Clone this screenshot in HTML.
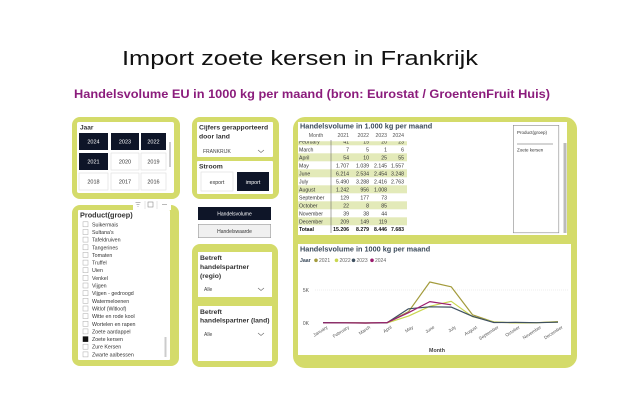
<!DOCTYPE html>
<html><head><meta charset="utf-8">
<style>
html,body{margin:0;padding:0;background:#fff;}
svg{display:block;}
text{font-family:"Liberation Sans",Arial,sans-serif;}
</style></head>
<body>
<svg width="626" height="417" viewBox="0 0 626 417" xmlns="http://www.w3.org/2000/svg">
<rect x="0" y="0" width="626" height="417" fill="#fff"/>

<!-- Titles -->
<text x="122" y="65" font-size="20" fill="#111" textLength="356" lengthAdjust="spacingAndGlyphs">Import zoete kersen in Frankrijk</text>
<text x="74" y="98" font-size="12" font-weight="bold" fill="#8b1c7c" textLength="476" lengthAdjust="spacingAndGlyphs">Handelsvolume EU in 1000 kg per maand (bron: Eurostat / GroentenFruit Huis)</text>

<!-- ===== Jaar panel ===== -->
<rect x="72" y="117" width="108" height="82" rx="8" fill="#d4db6a"/>
<rect x="77" y="122" width="97" height="71" rx="2" fill="#fff"/>
<text x="80" y="129.5" font-size="6.5" font-weight="bold" fill="#333">Jaar</text>
<rect x="169" y="142" width="2" height="25" fill="#ccc"/>
<g font-size="5.5" text-anchor="middle">
<rect x="79" y="133" width="29" height="17" fill="#0e1528"/><text x="93.5" y="143.5" fill="#fff">2024</text>
<rect x="111" y="133" width="28" height="17" fill="#0e1528"/><text x="125" y="143.5" fill="#fff">2023</text>
<rect x="141" y="133" width="25" height="17" fill="#0e1528"/><text x="153.5" y="143.5" fill="#fff">2022</text>
<rect x="79" y="153" width="29" height="17" fill="#0e1528"/><text x="93.5" y="163.5" fill="#fff">2021</text>
<rect x="111" y="153" width="28" height="17" fill="#fff" stroke="#ddd" stroke-width="0.6"/><text x="125" y="163.5" fill="#333">2020</text>
<rect x="141" y="153" width="25" height="17" fill="#fff" stroke="#ddd" stroke-width="0.6"/><text x="153.5" y="163.5" fill="#333">2019</text>
<rect x="79" y="173" width="29" height="17" fill="#fff" stroke="#ddd" stroke-width="0.6"/><text x="93.5" y="183.5" fill="#333">2018</text>
<rect x="111" y="173" width="28" height="17" fill="#fff" stroke="#ddd" stroke-width="0.6"/><text x="125" y="183.5" fill="#333">2017</text>
<rect x="141" y="173" width="25" height="17" fill="#fff" stroke="#ddd" stroke-width="0.6"/><text x="153.5" y="183.5" fill="#333">2016</text>
</g>

<!-- ===== Cijfers / Stroom panel ===== -->
<rect x="192" y="117" width="87" height="82" rx="8" fill="#d4db6a"/>
<rect x="197" y="122" width="76" height="35" rx="1" fill="#fff"/>
<rect x="197" y="161" width="76" height="33" rx="1" fill="#fff"/>
<text x="199" y="129.5" font-size="6.8" font-weight="bold" fill="#333">Cijfers gerapporteerd</text>
<text x="199" y="138.5" font-size="6.8" font-weight="bold" fill="#333">door land</text>
<text x="203" y="153" font-size="5" fill="#444">FRANKRIJK</text>
<polyline points="258,150 261,152.5 264,150" fill="none" stroke="#666" stroke-width="0.6"/>
<text x="199" y="168.5" font-size="6.8" font-weight="bold" fill="#333">Stroom</text>
<rect x="201" y="172" width="32" height="19" fill="#fff" stroke="#ddd" stroke-width="0.6"/>
<text x="217" y="184" font-size="5.3" text-anchor="middle" fill="#333">export</text>
<rect x="237" y="172" width="32" height="19" fill="#0e1528"/>
<text x="253" y="184" font-size="5.3" text-anchor="middle" fill="#fff">import</text>

<!-- ===== Product panel ===== -->
<rect x="72" y="205" width="107" height="161" rx="8" fill="#d4db6a"/>
<rect x="78" y="210" width="92" height="150" rx="1" fill="#fff"/>
<rect x="133" y="200" width="38" height="10" fill="#fff"/>
<g stroke="#777" stroke-width="0.5" fill="none">
<line x1="135.5" y1="202.5" x2="140.5" y2="202.5"/><line x1="136.5" y1="204.5" x2="139.5" y2="204.5"/><line x1="137.5" y1="206.5" x2="138.5" y2="206.5"/>
<rect x="148" y="202" width="5" height="5"/>
<line x1="145" y1="201" x2="145" y2="209" stroke="#ccc"/><line x1="157" y1="201" x2="157" y2="209" stroke="#ccc"/>
<line x1="162" y1="204.5" x2="167" y2="204.5"/>
</g>
<text x="80" y="217.5" font-size="7.3" font-weight="bold" fill="#333">Product(groep)</text>
<rect x="164.5" y="337" width="2" height="20" fill="#ccc"/>
<g font-size="5.3" fill="#333">
<rect x="83" y="221.8" width="5" height="5" fill="#fff" stroke="#aaa" stroke-width="0.5"/><text x="92" y="226.3">Suikermais</text>
<rect x="83" y="229.5" width="5" height="5" fill="#fff" stroke="#aaa" stroke-width="0.5"/><text x="92" y="234">Sultana's</text>
<rect x="83" y="237.1" width="5" height="5" fill="#fff" stroke="#aaa" stroke-width="0.5"/><text x="92" y="241.6">Tafeldruiven</text>
<rect x="83" y="244.8" width="5" height="5" fill="#fff" stroke="#aaa" stroke-width="0.5"/><text x="92" y="249.3">Tangerines</text>
<rect x="83" y="252.4" width="5" height="5" fill="#fff" stroke="#aaa" stroke-width="0.5"/><text x="92" y="256.9">Tomaten</text>
<rect x="83" y="260.1" width="5" height="5" fill="#fff" stroke="#aaa" stroke-width="0.5"/><text x="92" y="264.6">Truffel</text>
<rect x="83" y="267.7" width="5" height="5" fill="#fff" stroke="#aaa" stroke-width="0.5"/><text x="92" y="272.2">Uien</text>
<rect x="83" y="275.4" width="5" height="5" fill="#fff" stroke="#aaa" stroke-width="0.5"/><text x="92" y="279.9">Venkel</text>
<rect x="83" y="283" width="5" height="5" fill="#fff" stroke="#aaa" stroke-width="0.5"/><text x="92" y="287.5">Vijgen</text>
<rect x="83" y="290.7" width="5" height="5" fill="#fff" stroke="#aaa" stroke-width="0.5"/><text x="92" y="295.2">Vijgen - gedroogd</text>
<rect x="83" y="298.3" width="5" height="5" fill="#fff" stroke="#aaa" stroke-width="0.5"/><text x="92" y="302.8">Watermeloenen</text>
<rect x="83" y="306" width="5" height="5" fill="#fff" stroke="#aaa" stroke-width="0.5"/><text x="92" y="310.5">Witlof (Witloof)</text>
<rect x="83" y="313.6" width="5" height="5" fill="#fff" stroke="#aaa" stroke-width="0.5"/><text x="92" y="318.1">Witte en rode kool</text>
<rect x="83" y="321.3" width="5" height="5" fill="#fff" stroke="#aaa" stroke-width="0.5"/><text x="92" y="325.8">Wortelen en rapen</text>
<rect x="83" y="328.9" width="5" height="5" fill="#fff" stroke="#aaa" stroke-width="0.5"/><text x="92" y="333.4">Zoete aardappel</text>
<rect x="83" y="336.6" width="5" height="5" fill="#111" stroke="#111" stroke-width="0.5"/><text x="92" y="341.1">Zoete kersen</text>
<rect x="83" y="344.2" width="5" height="5" fill="#fff" stroke="#aaa" stroke-width="0.5"/><text x="92" y="348.7">Zure Kersen</text>
<rect x="83" y="351.9" width="5" height="5" fill="#fff" stroke="#aaa" stroke-width="0.5"/><text x="92" y="356.4">Zwarte aalbessen</text>
</g>

<!-- ===== Buttons ===== -->
<rect x="198" y="207" width="73" height="13" fill="#0e1528"/>
<text x="234.5" y="215.5" font-size="5" text-anchor="middle" fill="#fff">Handelsvolume</text>
<rect x="198.3" y="224.3" width="72.4" height="13.4" fill="#f0f0f0" stroke="#999" stroke-width="0.6"/>
<text x="234.5" y="232.8" font-size="5" text-anchor="middle" fill="#333">Handelswaarde</text>

<!-- ===== Betreft panel ===== -->
<rect x="192" y="244" width="86" height="123" rx="8" fill="#d4db6a"/>
<rect x="198" y="252" width="74" height="45" fill="#fff"/>
<rect x="198" y="306" width="74" height="55" fill="#fff"/>
<g font-size="6.8" font-weight="bold" fill="#333">
<text x="200" y="260">Betreft</text>
<text x="200" y="269">handelspartner</text>
<text x="200" y="278">(regio)</text>
<text x="200" y="314">Betreft</text>
<text x="200" y="322.5">handelspartner (land)</text>
</g>
<text x="204" y="291" font-size="5" fill="#444">Alle</text>
<polyline points="258,288 261,290.5 264,288" fill="none" stroke="#666" stroke-width="0.6"/>
<text x="204" y="336" font-size="5" fill="#444">Alle</text>
<polyline points="258,333 261,335.5 264,333" fill="none" stroke="#666" stroke-width="0.6"/>

<!-- ===== Table + Chart panels ===== -->
<rect x="293" y="117" width="284" height="251" rx="12" fill="#d4db6a"/>
<rect x="298" y="122" width="269" height="113" fill="#fff"/>
<rect x="298" y="244" width="273" height="111" fill="#fff"/>

<!-- Table -->
<text x="300" y="128.5" font-size="7.3" font-weight="bold" fill="#3b4a5a">Handelsvolume in 1.000 kg per maand</text>
<g font-size="5.2" fill="#555">
<text x="316" y="137" text-anchor="middle">Month</text>
<text x="349" y="137" text-anchor="end">2021</text>
<text x="369" y="137" text-anchor="end">2022</text>
<text x="387" y="137" text-anchor="end">2023</text>
<text x="404" y="137" text-anchor="end">2024</text>
</g>
<clipPath id="tc"><rect x="298" y="141.3" width="112" height="94"/></clipPath>
<g clip-path="url(#tc)" font-size="5.2" fill="#333">
<rect x="298" y="137.3" width="109" height="8" fill="#e3eab9"/>
<rect x="298" y="153.3" width="109" height="8" fill="#e3eab9"/>
<rect x="298" y="169.3" width="109" height="8" fill="#e3eab9"/>
<rect x="298" y="185.3" width="109" height="8" fill="#e3eab9"/>
<rect x="298" y="201.3" width="109" height="8" fill="#e3eab9"/>
<rect x="298" y="217.3" width="109" height="8" fill="#e3eab9"/>
<text x="299" y="143.3">February</text><text x="349" y="143.3" text-anchor="end">41</text><text x="369" y="143.3" text-anchor="end">15</text><text x="387" y="143.3" text-anchor="end">20</text><text x="404" y="143.3" text-anchor="end">23</text>
<g text-anchor="end">
<text x="349" y="151.3">7</text><text x="369" y="151.3">5</text><text x="387" y="151.3">1</text><text x="404" y="151.3">6</text>
<text x="349" y="159.3">54</text><text x="369" y="159.3">10</text><text x="387" y="159.3">25</text><text x="404" y="159.3">55</text>
<text x="349" y="167.3">1.707</text><text x="369" y="167.3">1.039</text><text x="387" y="167.3">2.145</text><text x="404" y="167.3">1.557</text>
<text x="349" y="175.3">6.214</text><text x="369" y="175.3">2.534</text><text x="387" y="175.3">2.454</text><text x="404" y="175.3">3.248</text>
<text x="349" y="183.3">5.490</text><text x="369" y="183.3">3.288</text><text x="387" y="183.3">2.416</text><text x="404" y="183.3">2.763</text>
<text x="349" y="191.3">1.242</text><text x="369" y="191.3">956</text><text x="387" y="191.3">1.008</text>
<text x="349" y="199.3">129</text><text x="369" y="199.3">177</text><text x="387" y="199.3">73</text>
<text x="349" y="207.3">22</text><text x="369" y="207.3">8</text><text x="387" y="207.3">85</text>
<text x="349" y="215.3">39</text><text x="369" y="215.3">38</text><text x="387" y="215.3">44</text>
<text x="349" y="223.3">209</text><text x="369" y="223.3">149</text><text x="387" y="223.3">119</text>
<g font-weight="bold" fill="#111"><text x="349" y="231.2">15.206</text><text x="369" y="231.2">8.279</text><text x="387" y="231.2">8.446</text><text x="404" y="231.2">7.683</text></g>
</g>
<text x="299" y="151.3">March</text>
<text x="299" y="159.3">April</text>
<text x="299" y="167.3">May</text>
<text x="299" y="175.3">June</text>
<text x="299" y="183.3">July</text>
<text x="299" y="191.3">August</text>
<text x="299" y="199.3">September</text>
<text x="299" y="207.3">October</text>
<text x="299" y="215.3">November</text>
<text x="299" y="223.3">December</text>
<text x="299" y="231.2" font-weight="bold" fill="#111">Totaal</text>
</g>
<line x1="331" y1="140" x2="331" y2="233" stroke="#555" stroke-width="0.5"/>

<!-- Table slicer box -->
<rect x="513.3" y="125.3" width="45.5" height="107.5" fill="#fff" stroke="#888" stroke-width="0.6"/>
<text x="517" y="134" font-size="4.5" fill="#333">Product(groep)</text>
<line x1="517" y1="144" x2="553" y2="144" stroke="#555" stroke-width="0.5"/>
<text x="517" y="151.5" font-size="4.5" fill="#333">Zoete kersen</text>
<rect x="563.5" y="143" width="3" height="90" fill="#bbb"/>

<!-- Chart -->
<text x="300" y="251.5" font-size="7.3" font-weight="bold" fill="#3b4a5a">Handelsvolume in 1000 kg per maand</text>
<text x="300" y="262" font-size="5.2" font-weight="bold" fill="#3b4a5a">Jaar</text>
<g font-size="5" fill="#666">
<circle cx="316" cy="260.3" r="1.8" fill="#a39b3c"/><text x="319" y="262">2021</text>
<circle cx="336.5" cy="260.3" r="1.8" fill="#c9d64f"/><text x="339.5" y="262">2022</text>
<circle cx="353.5" cy="260.3" r="1.8" fill="#3f5060"/><text x="356.5" y="262">2023</text>
<circle cx="372" cy="260.3" r="1.8" fill="#9b1c6e"/><text x="375" y="262">2024</text>
</g>
<line x1="315" y1="290" x2="568" y2="290" stroke="#ddd" stroke-width="0.5" stroke-dasharray="1,1"/>
<text x="309" y="291.8" font-size="5" text-anchor="end" fill="#555">5K</text>
<text x="309" y="324.8" font-size="5" text-anchor="end" fill="#555">0K</text>

<g fill="none" stroke-width="1.2" stroke-linejoin="round">
<polyline stroke="#a39b3c" points="323,322.7 344.4,322.7 365.7,323 387.1,322.6 408.5,311.7 429.8,282 451.2,286.8 472.5,314.8 493.9,322.1 515.2,322.9 536.6,322.7 558,321.6"/>
<polyline stroke="#c9d64f" points="323,322.6 344.4,322.9 365.7,323 387.1,322.9 408.5,316.1 429.8,306.3 451.2,301.3 472.5,316.7 493.9,321.8 515.2,322.9 536.6,322.7 558,322"/>
<polyline stroke="#3f5060" points="323,322.6 344.4,322.9 365.7,323 387.1,322.8 408.5,308.8 429.8,306.8 451.2,307.1 472.5,316.3 493.9,322.5 515.2,322.4 536.6,322.7 558,322.2"/>
<polyline stroke="#9b1c6e" points="323,322.8 344.4,322.8 365.7,323 387.1,322.6 408.5,312.7 429.8,301.6 451.2,304.8"/>
</g>

<g font-size="4.6" fill="#555" text-anchor="end">
<text transform="translate(328,328) rotate(-33)">January</text>
<text transform="translate(349.4,328) rotate(-33)">February</text>
<text transform="translate(370.7,328) rotate(-33)">March</text>
<text transform="translate(392.1,328) rotate(-33)">April</text>
<text transform="translate(413.5,328) rotate(-33)">May</text>
<text transform="translate(434.8,328) rotate(-33)">June</text>
<text transform="translate(456.2,328) rotate(-33)">July</text>
<text transform="translate(477.5,328) rotate(-33)">August</text>
<text transform="translate(498.9,328) rotate(-33)">September</text>
<text transform="translate(520.2,328) rotate(-33)">October</text>
<text transform="translate(541.6,328) rotate(-33)">November</text>
<text transform="translate(563,328) rotate(-33)">December</text>
</g>
<text x="437" y="352" font-size="5.3" font-weight="bold" text-anchor="middle" fill="#444">Month</text>
</svg>
</body></html>
